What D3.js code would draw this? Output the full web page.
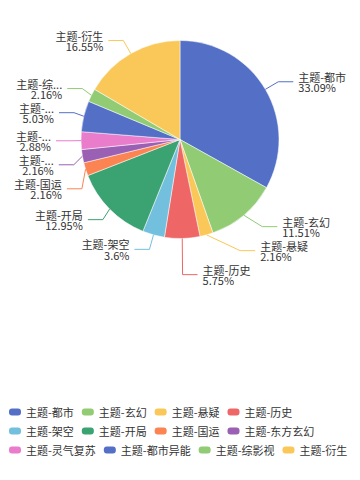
<!DOCTYPE html>
<html><head><meta charset="utf-8">
<script src="https://cdn.jsdelivr.net/npm/d3@7"></script>
<style>body{margin:0;background:#fff} svg{display:block}</style>
</head><body><svg id="c" width="360" height="480"></svg>
<script>
const categories = ["主题-都市","主题-玄幻","主题-悬疑","主题-历史","主题-架空","主题-开局","主题-国运","主题-东方玄幻","主题-灵气复苏","主题-都市异能","主题-综影视","主题-衍生"];
const values = [46,16,3,8,5,18,3,3,4,7,3,23];
const colors = ["#5470c6","#91cc75","#fac858","#ee6666","#73c0de","#3ba272","#fc8452","#9a60b4","#ea7ccc","#5470c6","#91cc75","#fac858"];

const W = 360, H = 480;
const cx = 180, cy = 139.5, R = 99;
const LEN = 15, LEN2 = 15, DIST = 5, LABEL_H = 24, BLEED = 10;
const FONT = "'Noto Sans CJK SC','Noto Sans',sans-serif";
const svg = d3.select("#c");

// largest remainder percentages (precision 2)
function percents(vals) {
  const sum = d3.sum(vals), digits = 100, target = 100 * digits;
  const quotas = vals.map(v => v / sum * target);
  const seats = quotas.map(Math.floor);
  const rem = quotas.map((q, i) => q - seats[i]);
  let cur = d3.sum(seats);
  while (cur < target) {
    let mi = 0;
    rem.forEach((r, i) => { if (r > rem[mi]) mi = i; });
    seats[mi]++; rem[mi] = -1; cur++;
  }
  return seats.map(s => s / digits);
}
const pct = percents(values);

const pie = d3.pie().sort(null).value(d => d).startAngle(0).endAngle(2 * Math.PI);
const arcs = pie(values);
const arcGen = d3.arc().innerRadius(0).outerRadius(R);

const g = svg.append("g");
g.selectAll("path.slice").data(arcs).join("path")
  .attr("class", "slice")
  .attr("transform", `translate(${cx},${cy})`)
  .attr("d", arcGen)
  .attr("fill", (d, i) => colors[i])
  .attr("stroke", "#fff").attr("stroke-width", 0.5);

// measurement helper
const meas = svg.append("text").attr("font-family", FONT).attr("font-size", 11).attr("visibility", "hidden");
function tw(s) { meas.text(s); return meas.node().getComputedTextLength(); }
function truncate(s, w) {
  if (tw(s) <= w) return s;
  const chars = Array.from(s);
  for (let n = chars.length - 1; n >= 0; n--) {
    const t = chars.slice(0, n).join("") + "...";
    if (tw(t) <= w) return t;
  }
  return "...";
}

// label layout
const items = arcs.map((a, i) => {
  const m = (a.startAngle + a.endAngle) / 2;
  const dx = Math.sin(m), dy = -Math.cos(m);
  const dir = dx < 0 ? -1 : 1;
  const x1 = cx + R * dx, y1 = cy + R * dy;
  const x2 = cx + (R + LEN) * dx, y2 = cy + (R + LEN) * dy;
  const x3 = x2 + dir * LEN2;
  return { i, dir, x1, y1, x: x3 + dir * DIST, y: y2 };
});

function layoutSide(list) {
  if (list.length < 2) return;
  list.sort((a, b) => a.y - b.y);
  let last = -Infinity, adjusted = false;
  list.forEach(it => {
    const top = it.y - LABEL_H / 2;
    if (top < last) { it.y += last - top; adjusted = true; }
    last = it.y + LABEL_H / 2;
  });
  if (!adjusted) return;
  const semis = [{ list: [], maxY: 0, rB: 0 }, { list: [], maxY: 0, rB: 0 }];
  const rA = R + LEN;
  list.forEach(it => {
    const semi = it.y > cy ? semis[1] : semis[0];
    const dyy = Math.abs(it.y - cy);
    if (dyy >= semi.maxY) {
      const dxx = it.x - cx - LEN2 * it.dir;
      semi.rB = Math.abs(dxx) < rA ? Math.sqrt(dyy * dyy / (1 - dxx * dxx / rA / rA)) : rA;
      semi.maxY = dyy;
    }
    semi.list.push(it);
  });
  semis.forEach(semi => {
    semi.list.forEach(it => {
      const dyy = Math.abs(it.y - cy);
      const ddx = Math.sqrt(Math.max(0, 1 - dyy * dyy / (semi.rB * semi.rB))) * rA;
      it.x = cx + (ddx + LEN2) * it.dir;
    });
  });
}
layoutSide(items.filter(it => it.x < cx));
layoutSide(items.filter(it => it.x >= cx));

items.forEach(it => {
  const left = it.x < cx;
  const avail = left ? it.x - BLEED : W - it.x - BLEED;
  const name = truncate(categories[it.i], avail);
  const pts = [[it.x1, it.y1], [it.x - it.dir * (LEN2 + DIST), it.y], [it.x - it.dir * DIST, it.y]];
  g.append("path").attr("d", d3.line()(pts)).attr("fill", "none")
    .attr("stroke", colors[it.i]).attr("stroke-width", 1);
  const t = g.append("text").attr("font-family", FONT).attr("font-size", 11).attr("fill", "#333")
    .attr("text-anchor", left ? "end" : "start");
  t.append("tspan").attr("x", it.x).attr("y", it.y - 5).attr("dominant-baseline", "central").text(name);
  t.append("tspan").attr("x", it.x).attr("y", it.y + 5.5).attr("dominant-baseline", "central").text(pct[it.i] + "%");
});

// legend
const legend = svg.append("g");
const rowsY = [412, 431, 450];
let lx = 9, row = 0;
categories.forEach((c, i) => {
  const w = tw(c);
  if (lx + 17 + w > 356) { row++; lx = 9; }
  const y = rowsY[row] !== undefined ? rowsY[row] : rowsY[0] + row * 19;
  legend.append("rect").attr("x", lx).attr("y", y - 3.5).attr("width", 12).attr("height", 7)
    .attr("rx", 3).attr("fill", colors[i]);
  legend.append("text").attr("x", lx + 17).attr("y", y).attr("dominant-baseline", "central")
    .attr("font-family", FONT).attr("font-size", 11).attr("fill", "#333").text(c);
  lx += 17 + w + 8;
});
meas.remove();
</script>
</body></html>
